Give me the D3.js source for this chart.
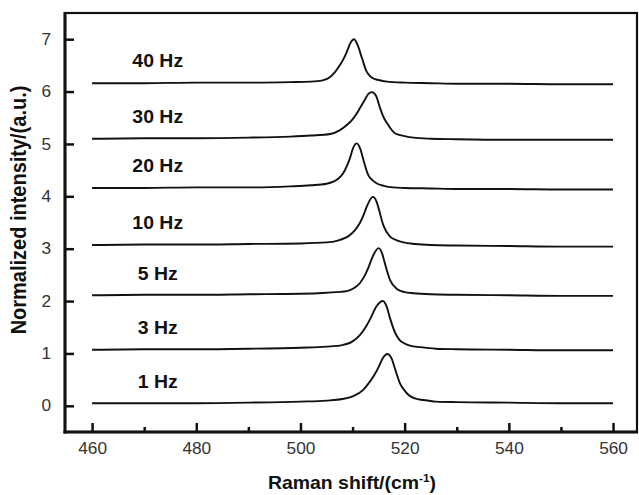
<!DOCTYPE html>
<html>
<head>
<meta charset="utf-8">
<script src="https://cdn.jsdelivr.net/npm/d3@7"></script>
<style>
  html, body { margin: 0; padding: 0; background: #fff; }
  svg { display: block; font-family: "Liberation Sans", Arial, Helvetica, sans-serif; }
</style>
</head>
<body>
<svg id="chart" width="639" height="495"></svg>
<script>
// Raman spectra, normalized and vertically offset, one trace per frequency
const seriesNames = ["1 Hz", "3 Hz", "5 Hz", "10 Hz", "20 Hz", "30 Hz", "40 Hz"];

// [Raman shift (cm^-1), normalized intensity]
const hz1 = [[460,0.05],[470,0.05],[480,0.05],[490,0.06],[500,0.08],[505,0.10],[508,0.13],[510,0.18],[512,0.30],[513,0.42],[514,0.56],[515,0.74],[515.8,0.91],[516.7,0.99],[517.5,0.90],[518.2,0.69],[519.1,0.43],[520,0.29],[520.7,0.21],[522,0.14],[523.6,0.11],[526,0.08],[530,0.07],[540,0.06],[550,0.05],[560,0.05]];
const hz3 = [[460,1.07],[470,1.08],[480,1.08],[490,1.09],[500,1.11],[505,1.13],[508,1.16],[510,1.23],[511.4,1.35],[512.5,1.50],[513.4,1.66],[514.6,1.90],[515.8,2.00],[516.6,1.88],[517.2,1.67],[518.2,1.39],[519,1.26],[519.8,1.20],[521,1.15],[523,1.12],[526,1.09],[530,1.08],[540,1.07],[550,1.06],[560,1.06]];
const hz5 = [[460,2.11],[470,2.12],[480,2.12],[490,2.13],[500,2.14],[505,2.16],[508.9,2.19],[510.3,2.25],[511.4,2.34],[512.3,2.48],[513,2.63],[514,2.88],[515,3.01],[515.7,2.90],[516.2,2.72],[517.2,2.40],[518.5,2.23],[520,2.17],[521.7,2.15],[525,2.13],[530,2.12],[540,2.11],[550,2.10],[560,2.10]];
const hz10 = [[460,3.07],[470,3.08],[480,3.08],[490,3.09],[500,3.10],[505,3.12],[507,3.15],[509.5,3.26],[510.5,3.36],[511.4,3.49],[512.1,3.64],[512.7,3.80],[513.9,3.99],[514.6,3.90],[515,3.77],[515.9,3.45],[517.2,3.23],[518.5,3.16],[519.8,3.12],[522,3.09],[525,3.07],[530,3.06],[540,3.05],[550,3.04],[560,3.04]];
const hz20 = [[460,4.16],[470,4.16],[480,4.17],[490,4.17],[498,4.19],[502,4.21],[505,4.24],[506.3,4.28],[507.3,4.34],[508.2,4.44],[509,4.60],[509.5,4.73],[510.1,4.92],[510.8,5.01],[511.5,4.90],[512.1,4.69],[513,4.41],[513.8,4.31],[514.6,4.25],[516,4.20],[517.8,4.17],[520,4.16],[525,4.15],[530,4.14],[540,4.14],[550,4.13],[560,4.13]];
const hz30 = [[460,5.10],[470,5.11],[480,5.11],[490,5.12],[498,5.14],[502,5.16],[505.7,5.19],[507.5,5.26],[508.9,5.36],[510,5.47],[510.8,5.58],[511.5,5.70],[512.1,5.80],[513,5.95],[513.7,5.99],[514.5,5.92],[515.3,5.68],[516,5.50],[516.6,5.40],[517.4,5.28],[518.2,5.20],[520,5.15],[521.7,5.12],[525,5.10],[530,5.09],[540,5.08],[550,5.08],[560,5.08]];
const hz40 = [[460,6.16],[470,6.16],[480,6.17],[490,6.17],[498,6.18],[502,6.19],[504.1,6.21],[505.7,6.28],[506.7,6.38],[507.6,6.51],[508.3,6.63],[508.9,6.76],[509.6,6.93],[510.3,7.00],[511,6.88],[511.8,6.64],[512.7,6.38],[513.3,6.30],[514,6.25],[515,6.22],[516.6,6.19],[520,6.17],[525,6.16],[530,6.15],[540,6.15],[550,6.14],[560,6.14]];

const spectra = [hz1, hz3, hz5, hz10, hz20, hz30, hz40];

const xMajorTicks = [460, 480, 500, 520, 540, 560];
const xMinorTicks = [470, 490, 510, 530, 550];
const yTicks = [0, 1, 2, 3, 4, 5, 6, 7];

const svg = d3.select("#chart");
const plotLeft = 65, plotRight = 637, plotTop = 13, plotBottom = 432;
const stretch = 1.08; // horizontal text aspect

const x = d3.scaleLinear().domain([454.8, 564.6]).range([plotLeft, plotRight]);
const y = d3.scaleLinear().domain([-0.5, 7.5]).range([plotBottom, plotTop]);

// spectra
const line = d3.line()
  .x(d => x(d[0]))
  .y(d => y(d[1]))
  .curve(d3.curveMonotoneX);

svg.append("g")
  .selectAll("path")
  .data(spectra)
  .join("path")
  .attr("d", line)
  .attr("fill", "none")
  .attr("stroke", "#111")
  .attr("stroke-width", 1.9)
  .attr("stroke-linejoin", "round");

// series labels, placed just above each baseline
svg.append("g")
  .selectAll("text")
  .data(seriesNames)
  .join("text")
  .attr("transform", (d, i) => `translate(${x(472.6)},${y(spectra[i][0][1] + 0.42)}) scale(${stretch},1)`)
  .attr("text-anchor", "middle")
  .attr("dy", "0.35em")
  .attr("font-size", 18)
  .attr("font-weight", "bold")
  .attr("fill", "#111")
  .text(d => d);

// axes with inward ticks
const xAxis = svg.append("g")
  .attr("transform", `translate(0,${plotBottom})`)
  .call(d3.axisBottom(x).tickValues(xMajorTicks).tickSize(-9).tickPadding(11).tickFormat(d3.format("d")));
const xMinor = svg.append("g")
  .attr("transform", `translate(0,${plotBottom})`)
  .call(d3.axisBottom(x).tickValues(xMinorTicks).tickSize(-5).tickFormat(""));
const yAxis = svg.append("g")
  .attr("transform", `translate(${plotLeft},0)`)
  .call(d3.axisLeft(y).tickValues(yTicks).tickSize(-9).tickPadding(12).tickFormat(d3.format("d")));

[xAxis, xMinor, yAxis].forEach(g => {
  g.select(".domain").remove();
  g.selectAll(".tick line").attr("stroke", "#111").attr("stroke-width", 2.5);
  g.selectAll(".tick text")
    .attr("font-size", 16)
    .attr("font-family", "Liberation Sans, Arial, sans-serif")
    .attr("fill", "#333");
});
xAxis.selectAll(".tick text").attr("transform", `scale(${stretch},1)`);
yAxis.selectAll(".tick text").attr("transform", `translate(-1,0) scale(${stretch},1)`);

// frame
svg.append("rect")
  .attr("x", plotLeft).attr("y", plotTop)
  .attr("width", plotRight - plotLeft).attr("height", plotBottom - plotTop)
  .attr("fill", "none").attr("stroke", "#111").attr("stroke-width", 2.2);
svg.append("line").attr("x1", plotLeft).attr("x2", plotLeft).attr("y1", plotTop - 1).attr("y2", plotBottom + 1.5)
  .attr("stroke", "#111").attr("stroke-width", 3);
svg.append("line").attr("x1", plotLeft - 1.5).attr("x2", plotRight + 1).attr("y1", plotBottom).attr("y2", plotBottom)
  .attr("stroke", "#111").attr("stroke-width", 3);

// axis titles
const xTitle = svg.append("text")
  .attr("transform", `translate(${(plotLeft + plotRight) / 2 + 1},489) scale(${stretch},1)`)
  .attr("text-anchor", "middle")
  .attr("font-size", 18)
  .attr("font-weight", "bold")
  .attr("fill", "#111");
xTitle.append("tspan").text("Raman shift/(cm");
xTitle.append("tspan").attr("dy", -7).attr("font-size", 11).text("-1");
xTitle.append("tspan").attr("dy", 7).text(")");

svg.append("text")
  .attr("transform", `translate(26,210) scale(${stretch},1) rotate(-90)`)
  .attr("text-anchor", "middle")
  .attr("font-size", 20)
  .attr("font-weight", "bold")
  .attr("fill", "#111")
  .text("Normalized intensity/(a.u.)");
</script>
</body>
</html>
